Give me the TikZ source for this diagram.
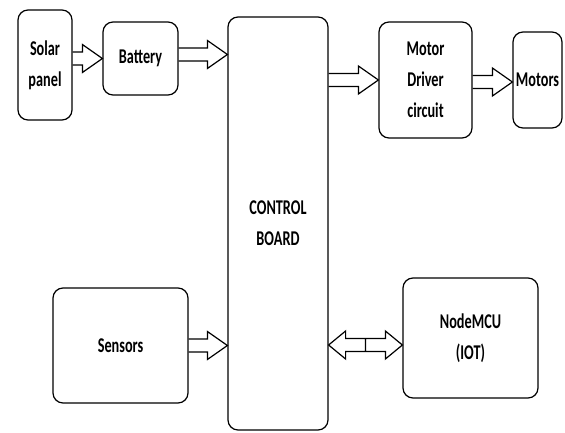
\documentclass[tikz,border=0pt]{standalone}
\usepackage{fontspec}
\setmainfont{Carlito}
\usepackage{tikz}
\usetikzlibrary{calc}
\tikzset{blk/.style={draw, very thick, rounded corners=10pt, align=center,
    inner sep=1pt, font=\fontsize{15}{31}\selectfont\bfseries},
  barrow/.style={draw, very thick, line join=miter}}

% text a bit taller than wide, as in the scan
\newcommand{\tl}[1]{\scalebox{0.95}[1.4]{#1}}

% open block arrow, from #1 to #2 (horizontal)
\newcommand{\blockarr}[2]{%
  \draw [barrow] let \p1=(#1), \p2=(#2) in
    (\x1,\y1+6.5pt) -- (\x2-20pt,\y1+6.5pt) -- (\x2-20pt,\y1+14pt)
    -- (\x2,\y1) -- (\x2-20pt,\y1-14pt) -- (\x2-20pt,\y1-6.5pt)
    -- (\x1,\y1-6.5pt);}
% same with a head at both ends
\newcommand{\blockdarr}[2]{%
  \draw [barrow] let \p1=(#1), \p2=(#2) in
    (\x1,\y1) -- (\x1+17pt,\y1+14pt) -- (\x1+17pt,\y1+6.5pt)
    -- (\x2-17pt,\y1+6.5pt) -- (\x2-17pt,\y1+14pt) -- (\x2,\y1)
    -- (\x2-17pt,\y1-14pt) -- (\x2-17pt,\y1-6.5pt)
    -- (\x1+17pt,\y1-6.5pt) -- (\x1+17pt,\y1-14pt) -- cycle
    ({(\x1+\x2)/2},\y1+6.5pt) -- ({(\x1+\x2)/2},\y1-6.5pt);}

\begin{document}
\begin{tikzpicture}[x=1pt,y=-1pt]

    \useasboundingbox (0,0) rectangle (565,433);

	\node [blk, minimum width=54, minimum height=110] (sol) at (45,65) {\tl{Solar}\\\tl{panel}};
	\node [blk, minimum width=75, minimum height=73] (bat) at (140.5,58.5) {\tl{Battery}};
	\node [blk, minimum width=100, minimum height=413] (brd) at (278,223.5) {\tl{CONTROL}\\\tl{BOARD}};
	\node [blk, minimum width=93, minimum height=116] (drv) at (425.5,80) {\tl{Motor}\\\tl{Driver}\\\tl{circuit}};
	\node [blk, minimum width=49, minimum height=96, inner sep=0pt] (mot) at (537.5,80) {\tl{Motors}};
	\node [blk, minimum width=135, minimum height=115] (sen) at (120.5,345.5) {\tl{Sensors}};
	\node [blk, minimum width=135, minimum height=120] (mcu) at (470.5,338) {\tl{NodeMCU}\\\tl{(IOT)}};

	\blockarr{sol.east |- bat.west}{bat.west}
	\blockarr{$(bat.east)+(0,-4)$}{$(bat.east -| brd.west)+(0,-4)$}
	\blockarr{drv.west -| brd.east}{drv.west}
	\blockarr{$(drv.east)+(0,2)$}{$(mot.west)+(0,2)$}
	\blockarr{sen.east}{sen.east -| brd.west}
	\blockdarr{$(mcu.west -| brd.east)+(0,7)$}{$(mcu.west)+(0,7)$}

\end{tikzpicture}
\end{document}
